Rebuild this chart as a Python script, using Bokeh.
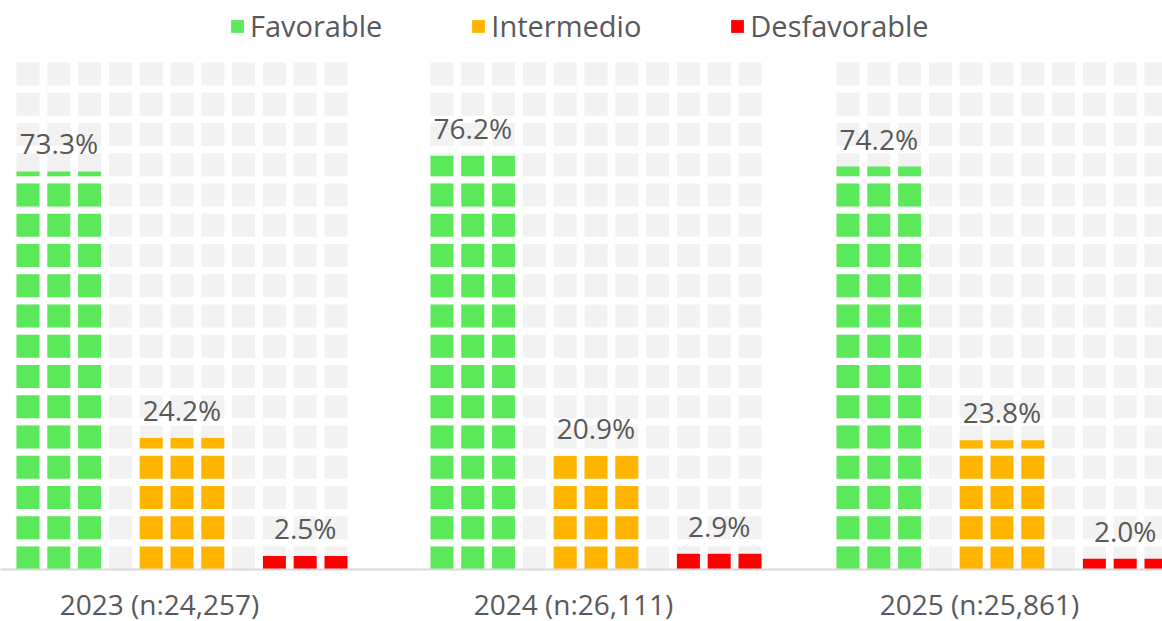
from bokeh.plotting import figure
from bokeh.models import (ColumnDataSource, Legend, LegendItem, FixedTicker,
                          Range1d, LinearAxis)
from bokeh.embed import file_html
from bokeh.resources import INLINE
from bokeh.core.properties import value

# ---------------- data ----------------
years = ["2023", "2024", "2025"]
axis_labels = ["2023 (n:24,257)", "2024 (n:26,111)", "2025 (n:25,861)"]
categories = ["Favorable", "Intermedio", "Desfavorable"]
favorable = [73.3, 76.2, 74.2]
intermedio = [24.2, 20.9, 23.8]
desfavorable = [2.5, 2.9, 2.0]
colors = ["#5BE85B", "#FFB500", "#FF0000"]

# ---------------- layout ----------------
FONT = "Open Sans"
TEXT_COLOR = "#595959"
FRAME_W, FRAME_H = 1162, 569
PX_PER_PCT = 5.43
PITCH_X = 30.8
CELL_W = 23.0
PITCH_Y = 30.25 / PX_PER_PCT
CELL_H = 23.0 / PX_PER_PCT
N_ROWS, N_COLS = 17, 11
GROUP_LEFT = [16.0, 430.0, 836.0]
LABEL_GAP = 28.0 / PX_PER_PCT
TICK_OFFSET = 143.0

p = figure(frame_width=FRAME_W, frame_height=FRAME_H,
           x_range=Range1d(0, FRAME_W), y_range=Range1d(0, FRAME_H / PX_PER_PCT),
           x_axis_type=None, y_axis_type=None,
           output_backend="svg", toolbar_location=None, min_border=0)
p.outline_line_color = None
p.background_fill_color = "white"
p.border_fill_color = "white"

# background grid of light cells
gl, gr, gb, gt = [], [], [], []
for g0 in GROUP_LEFT:
    for c in range(N_COLS):
        for k in range(N_ROWS):
            x0 = g0 + c * PITCH_X
            y0 = k * PITCH_Y
            gl.append(x0); gr.append(x0 + CELL_W)
            gb.append(y0); gt.append(y0 + CELL_H)
p.quad(left=gl, right=gr, bottom=gb, top=gt, fill_color="#F2F2F2", line_color=None)

# stacked cells for each series, clipped at the value
series = [favorable, intermedio, desfavorable]
items = []
for ci, (name, vals, col) in enumerate(zip(categories, series, colors)):
    L, R, B, T = [], [], [], []
    for gi, v in enumerate(vals):
        for j in range(3):
            x0 = GROUP_LEFT[gi] + (4 * ci + j) * PITCH_X
            k = 0
            while k * PITCH_Y < v:
                y0 = k * PITCH_Y
                L.append(x0); R.append(x0 + CELL_W)
                B.append(y0); T.append(min(y0 + CELL_H, v))
                k += 1
    src = ColumnDataSource(dict(left=L, right=R, bottom=B, top=T))
    r = p.quad(left="left", right="right", bottom="bottom", top="top",
               source=src, fill_color=col, line_color=None)
    items.append(LegendItem(label=name, renderers=[r]))

# value labels
lx, ly, lt = [], [], []
for ci, vals in enumerate(series):
    for gi, v in enumerate(vals):
        lx.append(GROUP_LEFT[gi] + (4 * ci + 1) * PITCH_X + CELL_W / 2)
        ly.append(v + LABEL_GAP)
        lt.append(f"{v:.1f}%")
p.text(x=lx, y=ly, text=lt, text_font=value(FONT), text_font_size="28px",
       text_color=TEXT_COLOR, text_align="center", text_baseline="alphabetic")

# x axis with group labels
ticks = [g + TICK_OFFSET for g in GROUP_LEFT]
axis = LinearAxis(ticker=FixedTicker(ticks=ticks),
                  major_label_overrides={t: lab for t, lab in zip(ticks, axis_labels)})
axis.axis_line_color = "#D9D9D9"
axis.axis_line_width = 2
axis.major_tick_line_color = None
axis.minor_tick_line_color = None
axis.major_tick_out = 0
axis.major_tick_in = 0
axis.major_label_standoff = 15
axis.major_label_text_font = FONT
axis.major_label_text_font_size = "28px"
axis.major_label_text_color = TEXT_COLOR
p.add_layout(axis, "below")

# legend
legend = Legend(items=items, orientation="horizontal", location=(229, 524),
                glyph_width=16, glyph_height=16, label_standoff=5, spacing=88,
                padding=0, margin=0, border_line_color=None,
                background_fill_alpha=0,
                label_text_font=FONT, label_text_font_size="29px",
                label_text_color=TEXT_COLOR)
p.add_layout(legend, "center")

open("out.html", "w").write(file_html(p, INLINE))
